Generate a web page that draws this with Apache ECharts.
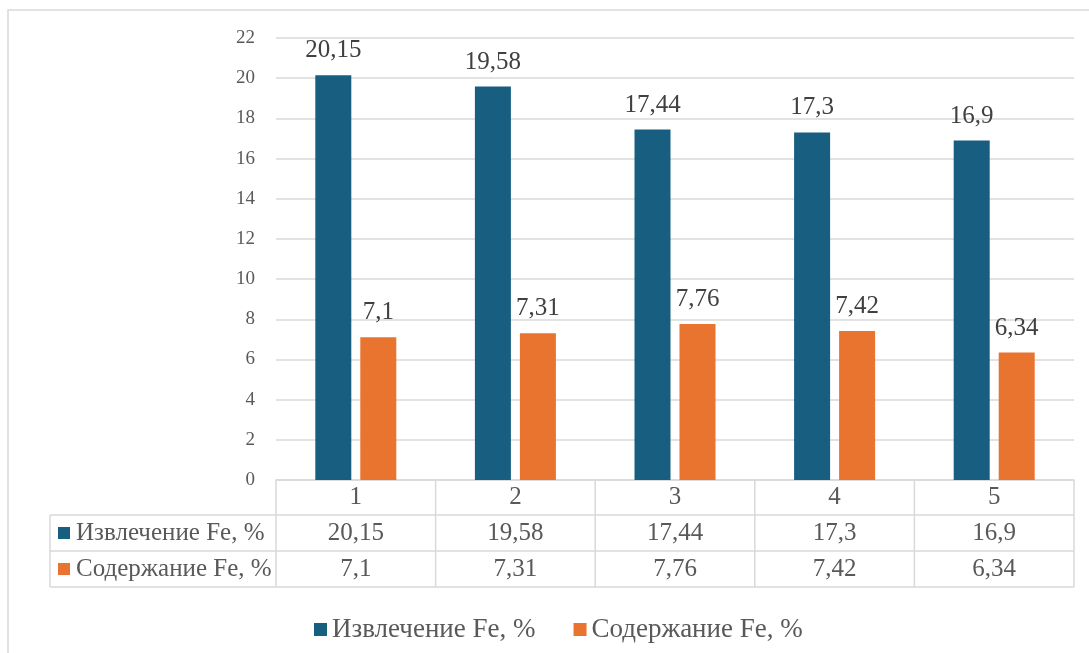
<!DOCTYPE html>
<html>
<head>
<meta charset="utf-8">
<script src="https://cdn.jsdelivr.net/npm/echarts@6/dist/echarts.min.js"></script>
<style>
  html, body { margin: 0; padding: 0; background: #ffffff; }
  #chart { width: 1089px; height: 653px; }
</style>
</head>
<body>
<div id="chart"></div>
<script>
// Experiment numbers and the two measured quantities
const categories = ['1', '2', '3', '4', '5'];
const extractionFe = [20.15, 19.58, 17.44, 17.3, 16.9];
const contentFe = [7.1, 7.31, 7.76, 7.42, 6.34];
const seriesNames = ['Извлечение Fe, %', 'Содержание Fe, %'];
const yMin = 0;
const yMax = 22;
const yStep = 2;

const colors = ['#175e80', '#e8742f'];
const FONT = 'Liberation Serif';
const GRID_COLOR = '#d9d9d9';
const TEXT_COLOR = '#595959';
const TABLE_FONT_SIZE = 25;

// Decimal comma, as in the source tables
const fmt = v => String(v).replace('.', ',');

// Table row geometry (below the category axis)
const headerH = 35;
const rowH = 36;
const tableLeft = 50;

const chart = echarts.init(document.getElementById('chart'));

const tableAxis = (values, offset) => ({
  type: 'category',
  data: values,
  position: 'bottom',
  offset: offset,
  gridIndex: 0,
  axisLine: { show: false },
  axisTick: { show: false },
  axisLabel: {
    interval: 0,
    margin: rowH / 2,
    verticalAlign: 'middle',
    fontFamily: FONT,
    fontSize: TABLE_FONT_SIZE,
    color: TEXT_COLOR
  }
});

const valueLabel = {
  show: true,
  position: 'top',
  distance: 12,
  formatter: p => fmt(p.value),
  fontFamily: FONT,
  fontSize: 25,
  color: '#404040'
};

function buildOption() {
  return {
    animation: false,
    textStyle: { fontFamily: FONT },
    grid: { left: 276, right: 15, top: 38, bottom: 173, containLabel: false },
    legend: {
      data: seriesNames,
      left: 309,
      top: 611,
      icon: 'rect',
      itemWidth: 13,
      itemHeight: 13,
      itemGap: 38,
      textStyle: { fontFamily: FONT, fontSize: 27, color: TEXT_COLOR }
    },
    xAxis: [
      {
        type: 'category',
        data: categories,
        position: 'bottom',
        axisLine: { show: true, lineStyle: { color: GRID_COLOR, width: 1.5 } },
        axisTick: { show: false },
        axisLabel: {
          interval: 0,
          margin: headerH / 2,
          verticalAlign: 'middle',
          fontFamily: FONT,
          fontSize: TABLE_FONT_SIZE,
          color: TEXT_COLOR
        }
      },
      tableAxis(extractionFe.map(fmt), headerH),
      tableAxis(contentFe.map(fmt), headerH + rowH)
    ],
    yAxis: {
      type: 'value',
      min: yMin,
      max: yMax,
      interval: yStep,
      axisLine: { show: false },
      axisTick: { show: false },
      splitLine: { lineStyle: { color: GRID_COLOR, width: 1.5 } },
      axisLabel: { margin: 21, fontFamily: FONT, fontSize: 19, color: TEXT_COLOR }
    },
    series: [
      {
        name: seriesNames[0],
        type: 'bar',
        xAxisIndex: 0,
        data: extractionFe,
        barWidth: 36,
        barGap: '25%',
        itemStyle: { color: colors[0] },
        label: valueLabel
      },
      {
        name: seriesNames[1],
        type: 'bar',
        xAxisIndex: 0,
        data: contentFe,
        barWidth: 36,
        barGap: '25%',
        itemStyle: { color: colors[1] },
        label: valueLabel
      }
    ]
  };
}

// Data-table borders, row headers and the outer frame
function drawTable() {
  const centers = categories.map(c => chart.convertToPixel({ xAxisIndex: 0 }, c));
  const band = centers.length > 1 ? centers[1] - centers[0] : 160;
  const plotLeft = centers[0] - band / 2;
  const plotRight = centers[centers.length - 1] + band / 2;
  const y0 = chart.convertToPixel({ yAxisIndex: 0 }, yMin);
  const y1 = y0 + headerH;
  const y2 = y1 + rowH;
  const y3 = y2 + rowH;
  const line = (x1, ya, x2, yb) => ({
    type: 'line',
    shape: { x1: x1, y1: ya, x2: x2, y2: yb },
    style: { stroke: GRID_COLOR, lineWidth: 1.5 },
    silent: true
  });
  const els = [];
  els.push({
    type: 'rect',
    shape: { x: 8, y: 10, width: 1200, height: 800 },
    style: { fill: null, stroke: GRID_COLOR, lineWidth: 1.5 },
    silent: true,
    z: -1
  });
  els.push(line(tableLeft, y1, plotRight, y1));
  els.push(line(tableLeft, y2, plotRight, y2));
  els.push(line(tableLeft, y3, plotRight, y3));
  els.push(line(tableLeft, y1, tableLeft, y3));
  for (let i = 0; i <= centers.length; i++) {
    const x = plotLeft + i * band;
    els.push(line(x, y0, x, y3));
  }
  [y1, y2].forEach((top, i) => {
    const cy = top + rowH / 2;
    els.push({
      type: 'rect',
      shape: { x: 58, y: cy - 6, width: 12, height: 12 },
      style: { fill: colors[i] },
      silent: true
    });
    els.push({
      type: 'text',
      x: 76,
      y: cy,
      style: {
        text: seriesNames[i],
        fontFamily: FONT,
        fontSize: TABLE_FONT_SIZE,
        fill: TEXT_COLOR,
        verticalAlign: 'middle',
        align: 'left'
      },
      silent: true
    });
  });
  chart.setOption({ graphic: { elements: els } });
}

function render() {
  chart.clear();
  chart.setOption(buildOption());
  drawTable();
}

// Draw once the serif face is ready at every size used, then repaint once more
const sample = 'Извлечение Содержание Fe, % 0123456789';
const fontLoads = [19, 25, 27].map(s =>
  document.fonts && document.fonts.load ? document.fonts.load(s + 'px "' + FONT + '"', sample) : Promise.resolve()
);
render();
Promise.all(fontLoads).catch(() => {}).then(() => {
  render();
  setTimeout(render, 300);
});
</script>
</body>
</html>
